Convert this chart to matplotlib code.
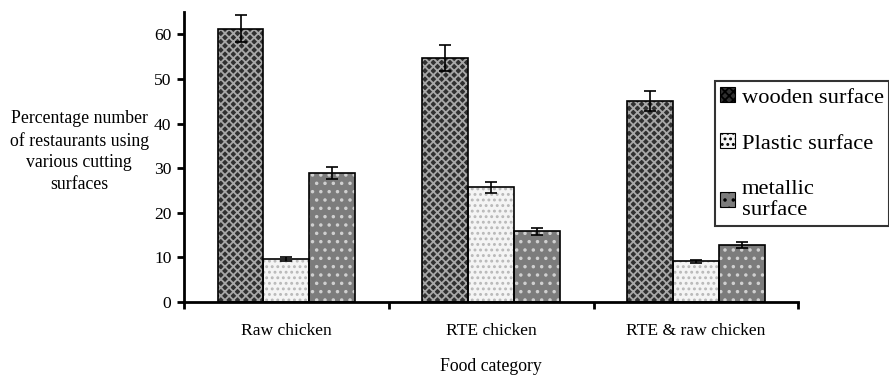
import numpy as np
import matplotlib.pyplot as plt
from matplotlib.patches import Patch

plt.rcParams['font.family'] = ['Liberation Serif', 'DejaVu Serif']
plt.rcParams['hatch.linewidth'] = 1.3

categories = ['Raw chicken', 'RTE chicken', 'RTE & raw chicken']
series = ['wooden surface', 'Plastic surface', 'metallic\nsurface']
wooden = [61.3, 54.7, 45.1]
wooden_err = [3.0, 2.9, 2.3]
plastic = [9.7, 25.7, 9.1]
plastic_err = [0.4, 1.2, 0.4]
metallic = [28.9, 15.9, 12.8]
metallic_err = [1.4, 0.8, 0.6]

# fill colour, hatch, hatch colour for each surface
styles = [('#303030', 'xxxx', '#a8a8a8'),
          ('#f4f4f4', '...', '#b8b8b8'),
          ('#7c7c7c', '..', '#d0d0d0')]

fig = plt.figure(figsize=(8.89, 3.79), dpi=100)
ax = fig.add_axes([0.207, 0.203, 0.691, 0.765])

x = np.arange(1, len(categories) + 1)
w = 0.224
vals = [wooden, plastic, metallic]
errs = [wooden_err, plastic_err, metallic_err]
handles = []
for i, (v, e) in enumerate(zip(vals, errs)):
    fc, h, hc = styles[i]
    pos = x + (i - 1) * w
    # hatch pass, then outline pass on top
    ax.bar(pos, v, w, color=fc, hatch=h, edgecolor=hc, linewidth=0, zorder=2)
    ax.bar(pos, v, w, fill=False, edgecolor='black', linewidth=1.2, zorder=3)
    ax.errorbar(pos, v, yerr=e, fmt='none', ecolor='black', elinewidth=1.2,
                capsize=4, capthick=1.2, zorder=4)
    handles.append(Patch(facecolor=fc, hatch=h, edgecolor=hc, linewidth=0))

ax.set_xlim(0.5, 3.5)
ax.set_ylim(0, 65)
ax.set_yticks(np.arange(0, 61, 10))
ax.set_xticks([0.5, 1.5, 2.5, 3.5])
ax.set_xticklabels([])
ax.set_xticks(x, minor=True)
ax.set_xticklabels(categories, minor=True, fontsize=12.6)
ax.tick_params(axis='x', which='minor', length=0, pad=15)
ax.tick_params(axis='both', which='major', direction='out', length=5,
               width=2, labelsize=12.6, pad=4)

for s in ['top', 'right']:
    ax.spines[s].set_visible(False)
for s in ['left', 'bottom']:
    ax.spines[s].set_linewidth(2)

fig.text(0.089, 0.600, 'Percentage number\nof restaurants using\nvarious cutting\nsurfaces',
         ha='center', va='center', fontsize=12.8, linespacing=1.35)
ax.set_xlabel('Food category', fontsize=12.8, labelpad=14)

leg = fig.legend(handles, series, loc='upper left',
                 bbox_to_anchor=(0.804, 0.785), fontsize=16.2,
                 frameon=True, fancybox=False, edgecolor='black',
                 handlelength=0.65, handleheight=0.65, handletextpad=0.3,
                 labelspacing=1.15, borderpad=0.25, borderaxespad=0)
leg.get_frame().set_linewidth(1.5)
for p in leg.get_patches():
    p.set_edgecolor('black')
    p.set_linewidth(0.8)

fig.savefig('out.png', dpi=100)
